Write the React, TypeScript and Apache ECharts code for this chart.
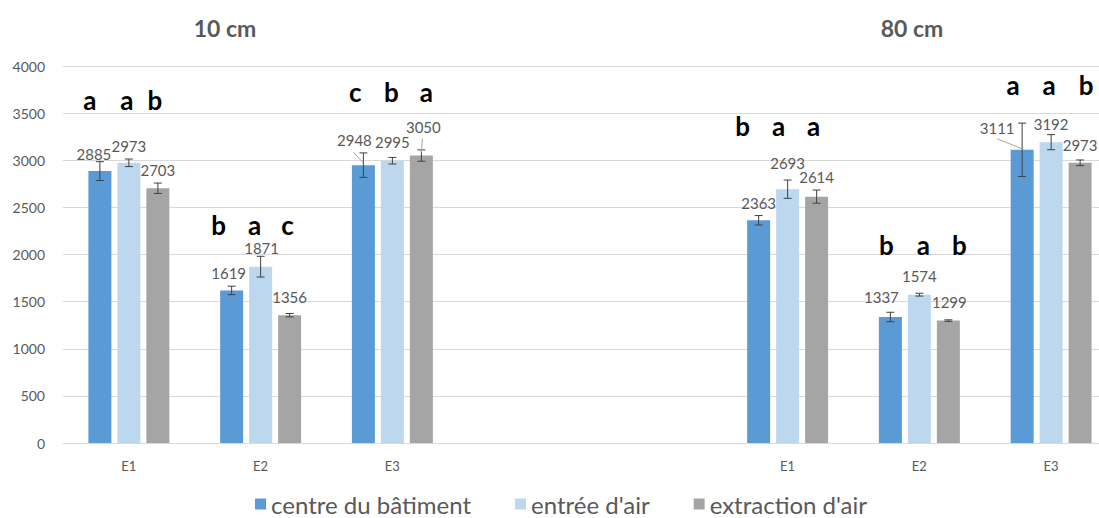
import React, { useEffect, useRef } from "react";
import * as echarts from "echarts";

// ---- data ----
const categories = ["E1", "E2", "E3", "", " ", "E1 ", "E2 ", "E3 "];
const seriesNames = ["centre du bâtiment", "entrée d'air", "extraction d'air"];
const centreValues = [2885, 1619, 2948, null, null, 2363, 1337, 3111];
const entreeValues = [2973, 1871, 2995, null, null, 2693, 1574, 3192];
const extractionValues = [2703, 1356, 3050, null, null, 2614, 1299, 2973];
const centreErrors = [100, 45, 130, null, null, 50, 50, 283];
const entreeErrors = [40, 110, 35, null, null, 97, 15, 80];
const extractionErrors = [55, 18, 60, null, null, 70, 8, 30];
const groupTitles = ["10 cm", "80 cm"];
// significance letters per group (category index -> letters for the 3 series)
const letterGroups = [0, 1, 2, 5, 6, 7];
const letters = [
  ["a", "a", "b"],
  ["b", "a", "c"],
  ["c", "b", "a"],
  ["b", "a", "a"],
  ["b", "a", "b"],
  ["a", "a", "b"],
];
const letterLevels = [3640, 2313, 3724, 3363, 2100, 3798];

// ---- styles / layout ----
const colors = ["#5B9BD5", "#BDD7EE", "#A5A5A5"];
const textColor = "#595959";
const FONT = "Lato, 'Open Sans', sans-serif";
const BAR_W = 23;
const BAR_STEP = 29;
const CHART_W = 1130;
// label centre offsets [dx, dy] relative to the top centre of each bar
const labelOffsets = [
  [[-6, -18], [-3, -18], [-9, -26], null, null, [0, -18], [-9, -20], [-25, -22]],
  [[0, -17], [1, -19], [0, -19], null, null, [0, -27], [0, -19], [0, -19]],
  [[0, -19], [0, -19], [2, -29], null, null, [0, -20], [1, -19], [0, -18]],
];
// leader lines [seriesIdx, catIdx, x1, y1, x2, y2] relative to bar top centre
const leaders = [
  [0, 2, -10, -13, 0, -2],
  [2, 2, 1, -17, 0, -3],
  [0, 7, -25, -11, 0, -1],
];
const letterDx = [
  [-39, -2, 26],
  [-42, -6, 27],
  [-37, -1, 34],
  [-45, -9, 26],
  [-33, 4, 40],
  [-38, -2, 35],
];

export default function App() {
  const ref = useRef<HTMLDivElement>(null);

  useEffect(() => {
    if (!ref.current) return;
    const chart = echarts.init(ref.current, undefined, { renderer: "svg" });
    const valueSets = [centreValues, entreeValues, extractionValues];
    const errorSets = [centreErrors, entreeErrors, extractionErrors];

    const barSeries = valueSets.map((vals, s) => ({
      name: seriesNames[s],
      type: "bar",
      barWidth: BAR_W,
      barGap: "26%",
      itemStyle: { color: colors[s] },
      data: vals.map((v, i) => {
        if (v === null) return null;
        const off = labelOffsets[s][i] || [0, -18];
        return {
          value: v,
          label: { offset: [off[0], off[1] + 8] },
        };
      }),
      label: {
        show: true,
        position: "top",
        distance: 0,
        color: textColor,
        fontSize: 15,
        fontFamily: FONT,
      },
    }));

    const errRows: number[][] = [];
    valueSets.forEach((vals, s) => {
      vals.forEach((v, i) => {
        if (v !== null) errRows.push([i, v as number, errorSets[s][i] as number, s]);
      });
    });

    const errorSeries = {
      type: "custom",
      name: "err",
      silent: true,
      z: 5,
      encode: { x: 0, y: 1 },
      data: errRows,
      renderItem: (params: any, api: any) => {
        const cat = api.value(0);
        const val = api.value(1);
        const err = api.value(2);
        const s = api.value(3);
        const dx = (s - 1) * BAR_STEP;
        const top = api.coord([cat, val + err]);
        const bot = api.coord([cat, val - err]);
        const mid = api.coord([cat, val]);
        const x = top[0] + dx;
        const stroke = { stroke: "#404040", lineWidth: 1 };
        const children: any[] = [
          { type: "line", shape: { x1: x, y1: top[1], x2: x, y2: bot[1] }, style: stroke },
          { type: "line", shape: { x1: x - 4, y1: top[1], x2: x + 4, y2: top[1] }, style: stroke },
          { type: "line", shape: { x1: x - 4, y1: bot[1], x2: x + 4, y2: bot[1] }, style: stroke },
        ];
        leaders.forEach((l) => {
          if (l[0] === s && l[1] === cat) {
            children.push({
              type: "line",
              shape: { x1: x + l[2], y1: mid[1] + l[3], x2: x + l[4], y2: mid[1] + l[5] },
              style: { stroke: "#A6A6A6", lineWidth: 1 },
            });
          }
        });
        return { type: "group", children };
      },
    };

    const letterRows = letterGroups.map((c, k) => [c, letterLevels[k]]);
    const letterSeries = {
      type: "custom",
      name: "letters",
      silent: true,
      z: 6,
      encode: { x: 0, y: 1 },
      data: letterRows,
      renderItem: (params: any, api: any) => {
        const k = params.dataIndex;
        const p = api.coord([api.value(0), api.value(1)]);
        return {
          type: "group",
          children: letters[k].map((t, j) => ({
            type: "text",
            x: p[0] + letterDx[k][j],
            y: p[1],
            style: {
              text: t,
              fill: "#000000",
              font: `bold 26px ${FONT}`,
              align: "center",
              verticalAlign: "middle",
              textAlign: "center",
              textVerticalAlign: "middle",
            },
          })),
        };
      },
    };

    const titleStyle = (t: string) => ({
      text: t,
      fill: textColor,
      font: `bold 23px ${FONT}`,
      align: "center",
      verticalAlign: "middle",
      textAlign: "center",
      textVerticalAlign: "middle",
    });

    chart.setOption({
      animation: false,
      grid: { left: 63, top: 66, height: 377, width: 1054, containLabel: false },
      graphic: [
        { type: "text", x: 225, y: 28, style: titleStyle(groupTitles[0]) },
        { type: "text", x: 912, y: 28, style: titleStyle(groupTitles[1]) },
      ],
      legend: {
        data: seriesNames,
        left: 250,
        top: 486,
        icon: "rect",
        itemWidth: 11,
        itemHeight: 11,
        itemGap: 44,
        textStyle: { color: textColor, fontSize: 24, fontFamily: FONT, lineHeight: 26 },
      },
      xAxis: {
        type: "category",
        data: categories,
        axisLine: { lineStyle: { color: "#D9D9D9" } },
        axisTick: { show: false },
        axisLabel: {
          color: textColor,
          fontSize: 13,
          fontFamily: FONT,
          margin: 16,
          interval: 0,
          formatter: (v: string) => v.trim(),
        },
      },
      yAxis: {
        type: "value",
        min: 0,
        max: 4000,
        interval: 500,
        axisLine: { show: false },
        axisTick: { show: false },
        splitLine: { lineStyle: { color: "#D9D9D9" } },
        axisLabel: {
          color: textColor,
          fontSize: 14,
          fontFamily: FONT,
          margin: 18,
          formatter: (v: number) => String(v),
        },
      },
      series: [...barSeries, errorSeries, letterSeries],
    });

    return () => chart.dispose();
  }, []);

  return (
    <div
      style={{ position: "absolute", left: 0, top: 0, width: 1099, height: 518, overflow: "hidden" }}
    >
      <div ref={ref} style={{ width: CHART_W, height: 518 }} />
    </div>
  );
}
